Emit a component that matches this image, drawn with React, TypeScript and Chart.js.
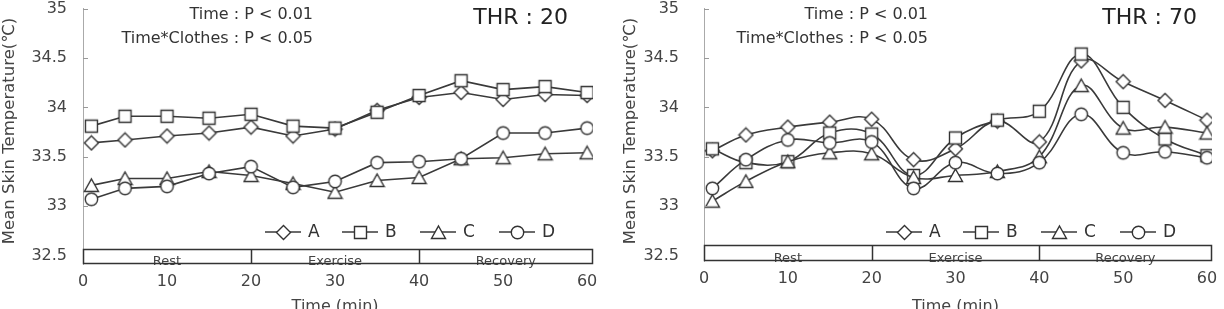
import React, { useEffect, useRef } from "react";
import { Chart, registerables } from "chart.js";

Chart.register(...registerables);

const FONT = '"DejaVu Sans", "Liberation Sans", sans-serif';

// Sampling times (min)
const times = [1, 5, 10, 15, 20, 25, 30, 35, 40, 45, 50, 55, 60];

// Clothing conditions
const clothes = ["A", "B", "C", "D"];

// Mean skin temperature (℃) at THR 20
const thr20A = [33.64, 33.67, 33.71, 33.74, 33.8, 33.71, 33.78, 33.97, 34.1, 34.15, 34.08, 34.13, 34.12];
const thr20B = [33.81, 33.91, 33.91, 33.89, 33.93, 33.81, 33.79, 33.95, 34.12, 34.27, 34.18, 34.21, 34.15];
const thr20C = [33.21, 33.28, 33.28, 33.35, 33.31, 33.23, 33.14, 33.26, 33.29, 33.48, 33.49, 33.53, 33.54];
const thr20D = [33.07, 33.18, 33.2, 33.33, 33.4, 33.19, 33.25, 33.44, 33.45, 33.48, 33.74, 33.74, 33.79];

// Mean skin temperature (℃) at THR 70
const thr70A = [33.56, 33.72, 33.8, 33.85, 33.88, 33.47, 33.58, 33.86, 33.65, 34.47, 34.26, 34.07, 33.87];
const thr70B = [33.58, 33.44, 33.45, 33.74, 33.73, 33.31, 33.69, 33.87, 33.96, 34.54, 34.0, 33.68, 33.51];
const thr70C = [33.05, 33.25, 33.45, 33.54, 33.53, 33.29, 33.31, 33.35, 33.5, 34.22, 33.79, 33.8, 33.74];
const thr70D = [33.18, 33.47, 33.67, 33.64, 33.65, 33.18, 33.44, 33.33, 33.44, 33.93, 33.54, 33.55, 33.49];

// Axis ticks
const yTicks = [32.5, 33, 33.5, 34, 34.5, 35];
const xTicks = [0, 10, 20, 30, 40, 50, 60];

// Experimental phases shown in the strip above the time axis
const phaseNames = ["Rest", "Exercise", "Recovery"];
const phaseStarts = [0, 20, 40];

const statLines = ["Time : P < 0.01", "Time*Clothes : P < 0.05"];
const yTitle = "Mean Skin Temperature(℃)";
const xTitle = "Time (min)";

const markerKinds = ["diamond", "square", "triangle", "circle"];

function makeMarker(kind: string): HTMLCanvasElement {
  const s = 17;
  const c = document.createElement("canvas");
  c.width = s;
  c.height = s;
  const g = c.getContext("2d") as CanvasRenderingContext2D;
  const m = s / 2;
  g.lineWidth = 1.4;
  g.strokeStyle = "#333";
  g.fillStyle = "#fff";
  g.beginPath();
  if (kind === "diamond") {
    g.moveTo(m, m - 7);
    g.lineTo(m + 7, m);
    g.lineTo(m, m + 7);
    g.lineTo(m - 7, m);
    g.closePath();
  } else if (kind === "square") {
    g.rect(m - 6, m - 6, 12, 12);
  } else if (kind === "triangle") {
    g.moveTo(m, m - 6.5);
    g.lineTo(m + 7, m + 6);
    g.lineTo(m - 7, m + 6);
    g.closePath();
  } else {
    g.arc(m, m, 6.2, 0, Math.PI * 2);
  }
  g.fill();
  g.stroke();
  return c;
}

type Panel = {
  thr: string;
  series: number[][];
  yMin: number;
  bandTop: number;
  xMax: number;
  smooth: boolean;
  axisWidth: number;
  labelPad: number;
  padRight: number;
  plotBottom: number;
  yTitleX: number;
  statsRight: number;
  thrRight: number;
};

const panels: Panel[] = [
  {
    thr: "THR : 20",
    series: [thr20A, thr20B, thr20C, thr20D],
    yMin: 32.414,
    bandTop: 32.566,
    xMax: 60.7,
    smooth: false,
    axisWidth: 83,
    labelPad: 16,
    padRight: 19,
    plotBottom: 264,
    yTitleX: 9.5,
    statsRight: 313,
    thrRight: 568,
  },
  {
    thr: "THR : 70",
    series: [thr70A, thr70B, thr70C, thr70D],
    yMin: 32.444,
    bandTop: 32.606,
    xMax: 60.6,
    smooth: true,
    axisWidth: 92,
    labelPad: 25,
    padRight: 12,
    plotBottom: 261,
    yTitleX: 18.5,
    statsRight: 316,
    thrRight: 585,
  },
];

const W = 612;
const H = 309;

function PanelChart({ panel }: { panel: Panel }) {
  const ref = useRef<HTMLCanvasElement | null>(null);

  useEffect(() => {
    const canvas = ref.current;
    if (!canvas) return;
    const markers = markerKinds.map(makeMarker);

    const decor = {
      id: "panelDecor",
      afterDraw(chart: any) {
        const { ctx, chartArea: ca, scales } = chart;
        const x = scales.x;
        const y = scales.y;
        ctx.save();

        // short inward tick marks on the value axis
        ctx.strokeStyle = "#999";
        ctx.lineWidth = 1;
        for (const v of yTicks) {
          const py = Math.round(y.getPixelForValue(v)) + 0.5;
          ctx.beginPath();
          ctx.moveTo(ca.left, py);
          ctx.lineTo(ca.left + 5, py);
          ctx.stroke();
        }

        // phase strip
        const top = Math.round(y.getPixelForValue(panel.bandTop)) + 0.5;
        const bot = Math.round(ca.bottom) - 0.5;
        const left = Math.round(x.getPixelForValue(phaseStarts[0])) + 0.5;
        const right = Math.round(ca.right) - 0.5;
        ctx.fillStyle = "#fff";
        ctx.fillRect(left, top, right - left, bot - top);
        ctx.font = `13px ${FONT}`;
        ctx.fillStyle = "#444";
        ctx.textAlign = "center";
        ctx.textBaseline = "alphabetic";
        const edges = phaseStarts.map((v) => x.getPixelForValue(v)).concat([right]);
        phaseNames.forEach((name, i) => {
          ctx.fillText(name, (edges[i] + edges[i + 1]) / 2, bot + 1);
        });
        ctx.strokeStyle = "#333";
        ctx.lineWidth = 1.5;
        ctx.strokeRect(left, top, right - left, bot - top);
        for (let i = 1; i < phaseStarts.length; i++) {
          const px = Math.round(edges[i]) + 0.5;
          ctx.beginPath();
          ctx.moveTo(px, top);
          ctx.lineTo(px, bot);
          ctx.stroke();
        }

        // legend
        const legendOffsets = [200, 277, 355, 434];
        const ly = 232;
        ctx.font = `17px ${FONT}`;
        ctx.textAlign = "left";
        ctx.textBaseline = "middle";
        clothes.forEach((name, i) => {
          const mx = ca.left + legendOffsets[i];
          ctx.strokeStyle = "#3a3a3a";
          ctx.lineWidth = 1.6;
          ctx.beginPath();
          ctx.moveTo(mx - 18, ly);
          ctx.lineTo(mx + 18, ly);
          ctx.stroke();
          const img = markers[i];
          ctx.drawImage(img, Math.round(mx - img.width / 2), Math.round(ly - img.height / 2));
          ctx.fillStyle = "#333";
          ctx.fillText(name, mx + 25, ly + 1);
        });

        // statistics note
        ctx.font = `16px ${FONT}`;
        ctx.fillStyle = "#333";
        ctx.textAlign = "right";
        ctx.fillText(statLines[0], panel.statsRight, 15);
        ctx.fillText(statLines[1], panel.statsRight, 39);

        // condition label
        ctx.font = `22px ${FONT}`;
        ctx.fillStyle = "#222";
        ctx.fillText(panel.thr, panel.thrRight, 18);

        // axis titles
        ctx.font = `16px ${FONT}`;
        ctx.fillStyle = "#444";
        ctx.textAlign = "center";
        ctx.fillText(xTitle, x.getPixelForValue(30), 307);
        ctx.save();
        ctx.font = `16.5px ${FONT}`;
        ctx.translate(panel.yTitleX, 131);
        ctx.rotate(-Math.PI / 2);
        ctx.fillText(yTitle, 0, 0);
        ctx.restore();

        ctx.restore();
      },
    };

    const chart = new Chart(canvas, {
      type: "line",
      data: {
        datasets: panel.series.map((vals, i) => ({
          label: clothes[i],
          data: times.map((t, k) => ({ x: t, y: vals[k] })),
          borderColor: "#3a3a3a",
          borderWidth: 1.6,
          pointStyle: markers[i] as any,
          pointRadius: 7,
          pointHoverRadius: 7,
          tension: panel.smooth ? 0.4 : 0,
          fill: false,
          order: clothes.length - 1 - i,
        })),
      },
      options: {
        responsive: false,
        animation: false,
        events: [],
        layout: { padding: { left: 0, right: panel.padRight, top: 8.5, bottom: 0 } },
        plugins: {
          legend: { display: false },
          tooltip: { enabled: false },
          title: { display: false },
        },
        scales: {
          x: {
            type: "linear",
            min: 0,
            max: panel.xMax,
            afterBuildTicks: (s: any) => {
              s.ticks = xTicks.map((v) => ({ value: v }));
            },
            afterFit: (s: any) => {
              s.height = H - panel.plotBottom;
              s.paddingLeft = 0;
              s.paddingRight = 0;
            },
            grid: { display: false, drawTicks: false },
            border: { display: false },
            ticks: {
              padding: 8,
              color: "#444",
              font: { family: FONT, size: 16 },
              maxRotation: 0,
              autoSkip: false,
              callback: (v: any) => String(v),
            },
          },
          y: {
            min: panel.yMin,
            max: 35,
            afterBuildTicks: (s: any) => {
              s.ticks = yTicks.map((v) => ({ value: v }));
            },
            afterFit: (s: any) => {
              s.width = panel.axisWidth;
              s.paddingTop = 0;
              s.paddingBottom = 0;
            },
            grid: { display: false, drawTicks: false },
            border: { display: true, color: "#aaa", width: 1 },
            ticks: {
              padding: panel.labelPad,
              color: "#444",
              font: { family: FONT, size: 16 },
              autoSkip: false,
              callback: (v: any) => String(v),
            },
          },
        },
      },
      plugins: [decor],
    } as any);

    return () => chart.destroy();
  }, [panel]);

  return <canvas ref={ref} width={W} height={H} style={{ display: "block", width: W, height: H }} />;
}

export default function App() {
  return (
    <div
      style={{
        position: "fixed",
        left: 0,
        top: 0,
        width: W * 2,
        height: H,
        display: "flex",
        background: "#fff",
      }}
    >
      {panels.map((p) => (
        <PanelChart key={p.thr} panel={p} />
      ))}
    </div>
  );
}
